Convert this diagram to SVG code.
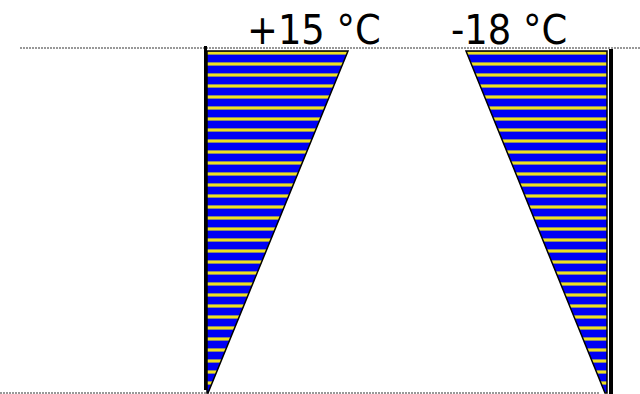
<svg xmlns="http://www.w3.org/2000/svg" width="640" height="394" viewBox="0 0 640 394">
<style>
.lbl{font-family:"DejaVu Sans Condensed","DejaVu Sans",Verdana,sans-serif;font-stretch:condensed;font-size:41px;fill:#000}
.dot{stroke:#777;stroke-width:1.5;stroke-dasharray:2 1;fill:none}
.fill{fill:url(#stripes);stroke:#000;stroke-width:1.5;stroke-linejoin:miter}
.wall{fill:#000}
</style>
<defs>
<pattern id="stripes" patternUnits="userSpaceOnUse" x="0" y="51" width="20" height="11">
<rect width="20" height="11" fill="#0000f5"/>
<rect y="0" width="20" height="4" fill="#8a8a70"/>
<rect y="1" width="20" height="2" fill="#f0e020"/>
</pattern>
</defs>
<g id="guides">
<line class="dot" x1="20" y1="48" x2="640" y2="48"/>
<line class="dot" x1="0" y1="393" x2="600" y2="393"/>
</g>
<g id="warm">
<polygon class="fill" points="207,51 348,51 208,393 207,393"/>
<rect class="wall" x="204" y="46" width="3" height="344"/>
<text class="lbl" x="247" y="44">+15 °C</text>
</g>
<g id="cold">
<polygon class="fill" points="466,51 607,51 607,393 605,393"/>
<rect class="wall" x="609" y="49" width="4" height="345"/>
<text class="lbl" x="451" y="44">-18 °C</text>
</g>
</svg>
